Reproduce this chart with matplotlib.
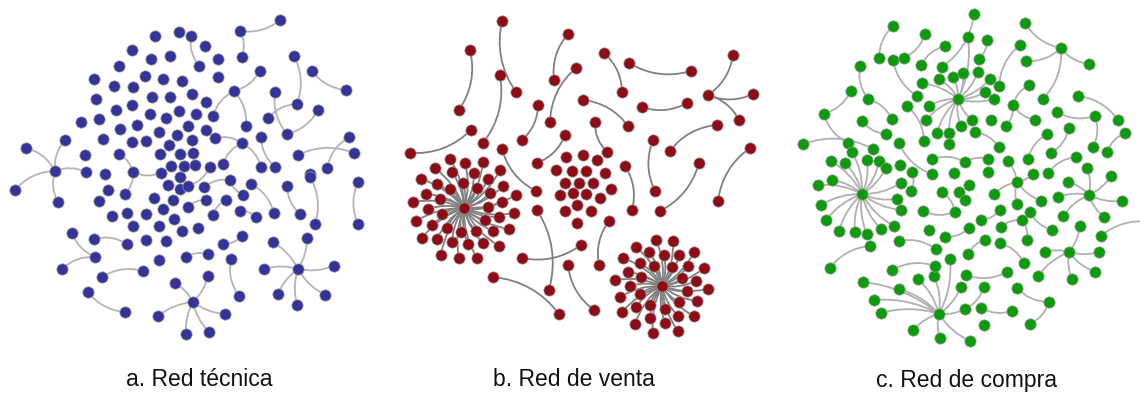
import numpy as np
import matplotlib
matplotlib.use("Agg")
import matplotlib.pyplot as plt
from matplotlib.path import Path
from matplotlib.patches import PathPatch

# node layouts (pixel coords, y down)
# ---- a. Red tecnica
nodes_a = [(155,36),(179,32),(191,36),(132,50),(151,59),(170,56),(119,66),(94,79),(145,76),(163,79),
           (182,81),(114,86),(133,87),(96,99),(152,97),(170,97),(116,110),(132,105),(150,114),(166,118),
           (179,111),(81,122),(99,119),(120,129),(137,125),(159,132),(177,135),(188,126),(65,140),(26,148),
           (103,139),(132,142),(146,141),(169,145),(85,155),(119,154),(160,154),(180,154),(171,166),(184,166),
           (55,171),(86,172),(105,174),(133,172),(161,173),(193,153),
           (280,20),(240,31),(205,46),(218,59),(242,57),(199,66),(294,56),(260,71),(218,77),(312,71),
           (346,90),(234,91),(192,94),(275,92),(206,102),(297,104),(268,118),(318,110),(196,114),(213,116),
           (246,126),(206,130),(287,134),(192,140),(215,138),(242,143),(261,137),(349,137),(298,155),(354,153),
           (195,165),(210,167),(223,164),(261,167),(275,167),(327,168),(310,174),
           (180,177),(15,190),(58,202),(108,190),(125,194),(99,201),(168,185),(180,189),(188,186),(154,198),
           (173,200),(112,216),(127,213),(146,214),(163,209),(174,219),(188,207),(133,226),(159,226),(182,231),
           (72,233),(94,239),(127,244),(146,240),(166,241),(95,257),(62,269),(159,260),(186,257),(102,277),
           (143,271),(175,283),(88,292),(125,312),(158,316),(186,334),
           (204,187),(230,180),(243,195),(251,184),(287,186),(310,177),(358,182),(206,200),(226,200),(213,215),
           (240,211),(256,217),(274,213),(300,214),(315,224),(358,224),(198,228),(242,236),(223,244),(273,242),
           (307,238),(208,254),(231,259),(264,269),(298,269),(334,266),(208,276),(239,296),(278,294),(325,295),
           (297,305),(193,302),(225,314),(209,332)]
edges_a = [((55,171),(26,148)),((55,171),(65,140)),((55,171),(15,190)),((55,171),(86,172)),((55,171),(58,202)),
           ((119,154),(133,172)),((133,172),(161,173)),((133,172),(125,194)),
           ((240,31),(280,20)),((240,31),(242,57)),((191,36),(199,66)),((294,56),(297,104)),((312,71),(346,90)),
           ((260,71),(234,91)),((234,91),(213,116)),((234,91),(246,126)),((275,92),(287,134)),((268,118),(297,104)),
           ((287,134),(318,110)),((215,138),(242,143)),((242,143),(223,164)),((242,143),(261,167)),((261,137),(275,167)),
           ((298,155),(354,153)),((349,137),(327,168)),((210,167),(188,186)),
           ((72,233),(95,257)),((94,239),(127,244)),((95,257),(62,269)),((102,277),(143,271)),((88,292),(125,312)),
           ((204,187),(230,180)),((230,180),(243,195)),((251,184),(274,213)),((287,186),(300,214)),((310,177),(315,224)),
           ((358,182),(358,224)),((188,207),(206,200)),((226,200),(213,215)),((240,211),(256,217)),((223,244),(242,236)),
           ((186,257),(208,254)),((231,259),(239,296))]
hubs_a = [((193,302), [(175,283),(158,316),(186,334),(208,276),(225,314),(209,332)]),
          ((298,269), [(273,242),(307,238),(264,269),(334,266),(278,294),(325,295),(297,305)])]

# ---- b. Red de venta
nodes_b = [(502,21),(568,34),(470,50),(576,68),(500,75),(516,92),(554,80),(583,100),(459,110),(538,105),
           (550,122),(471,130),(410,153),(483,143),(522,140),(502,149),(565,135),(537,163),
           (604,53),(629,63),(691,71),(733,55),(622,92),(642,107),(687,103),(708,95),(753,94),(739,120),
           (595,122),(628,126),(717,125),(653,140),(670,151),(750,148),(607,152),(699,163),(625,166),
           (556,170),(572,171),(586,171),(605,173),(565,183),(579,183),(593,183),(611,189),(560,195),
           (573,193),(586,194),(600,198),(577,205),(565,211),(591,211),(577,223),(583,155),(597,160),(566,157)]
edges_b = [((502,21),(516,92)),((500,75),(483,143)),((568,34),(554,80)),((470,50),(459,110)),((576,68),(550,122)),
           ((538,105),(522,140)),((410,153),(471,130)),((565,135),(537,163)),((502,149),(536,191)),((537,210),(549,290)),
           ((522,258),(581,245)),((493,277),(559,314)),((568,265),(594,310)),
           ((604,53),(622,92)),((629,63),(691,71)),((733,55),(708,95)),((708,95),(753,94)),((708,95),(739,120)),
           ((642,107),(687,103)),((583,100),(628,126)),((595,122),(607,152)),((670,151),(717,125)),((653,140),(655,191)),
           ((699,163),(660,211)),((750,148),(718,201)),((625,166),(632,210)),((609,221),(599,265))]
hubs_b = [((464,208), [(450,159),(465,163),(483,162),(435,168),(500,170),(474,173),(452,172),(421,179),(488,179),
                       (437,184),(450,189),(463,183),(477,188),(503,186),(426,194),(440,199),(490,193),(516,195),
                       (413,202),(428,209),(488,207),(502,202),(442,214),(514,213),(416,221),(432,225),(485,220),
                       (499,217),(447,228),(461,232),(476,231),(493,231),(509,229),(422,238),(437,239),(452,242),
                       (468,244),(483,243),(499,246),(441,255),(459,258),(477,258)]),
          ((662,286), [(656,240),(673,241),(636,247),(649,252),(664,255),(679,255),(694,252),(623,258),(640,263),
                       (654,266),(672,267),(688,266),(704,268),(628,272),(615,280),(641,277),(682,278),(696,281),
                       (630,286),(708,289),(687,291),(640,294),(620,297),(697,301),(679,302),(650,305),(636,307),
                       (665,309),(622,312),(678,316),(694,316),(650,318),(665,323),(635,324),(678,331),(653,333)])]

# ---- c. Red de compra
nodes_c = [(893,26),(925,34),(974,14),(945,46),(968,37),(879,58),(893,60),(904,58),(860,66),(921,65),
           (942,67),(963,73),(939,79),(953,77),(922,83),(851,91),(868,99),(917,96),(958,99),(907,106),
           (929,106),(824,114),(926,120),(862,121),(892,119),(961,126),(972,120),(937,133),(949,133),(886,134),
           (803,144),(848,143),(873,149),(899,143),(924,141),(949,144),(852,152),(831,161),(845,163),(867,160),
           (879,161),(886,168),(900,165),(912,172),(932,159),(965,162),(932,174),(954,173),
           (987,40),(1025,23),(1020,45),(1061,48),(979,59),(1026,61),(1089,64),(978,72),(990,79),(999,86),
           (985,92),(994,99),(1029,85),(1043,99),(1078,96),(1013,105),(1057,112),(1095,116),(1118,120),(991,120),
           (1035,120),(1006,126),(1069,128),(1125,133),(975,132),(1047,134),(999,147),(1093,147),(1107,152),(1051,153),
           (1076,157),(988,159),(1008,161),(1028,159),(1087,168),(988,172),(1033,174),(1048,173),(1111,176),
           (818,185),(832,180),(862,194),(821,205),(826,220),(839,231),(855,232),(867,234),(881,229),(894,226),
           (901,210),(897,199),(901,183),(911,191),(942,192),(959,192),(965,200),(969,185),(923,211),(955,212),
           (929,230),(945,237),(969,228),(870,246),(899,241),(936,249),(830,268),(892,270),(935,266),(950,259),
           (968,254),(918,279),(934,276),(863,282),(899,289),(966,275),(961,287),(874,300),(881,313),(939,314),
           (965,309),(913,330),(940,338),(970,341),
           (1017,182),(1068,182),(1089,195),(994,194),(1017,204),(1041,201),(1058,197),(1122,201),(1000,210),
           (1030,212),(1063,216),(1104,217),(981,220),(1022,220),(1001,227),(1052,230),(1080,226),(1101,236),
           (985,240),(1027,240),(1000,243),(1045,252),(1069,252),(1099,252),(1024,263),(1007,272),(1038,276),
           (1072,279),(1095,272),(984,287),(1017,288),(1049,302),(981,308),(1012,311),(1030,324),(984,325)]
edges_c = [((893,26),(879,58)),((925,34),(904,58)),((945,46),(921,65)),((974,14),(942,67)),
           ((860,66),(868,99)),((868,99),(892,119)),((893,60),(917,96)),((851,91),(824,114)),((824,114),(848,143)),
           ((803,144),(873,149)),((862,121),(886,134)),((907,106),(924,141)),((899,143),(932,174)),((932,159),(965,162)),
           ((1025,23),(1061,48)),((1061,48),(1026,61)),((1061,48),(1089,64)),((1061,48),(1043,99)),((1020,45),(999,86)),
           ((987,40),(979,59)),((1029,85),(1013,105)),((1013,105),(1006,126)),((1013,105),(1035,120)),((1078,96),(1118,120)),
           ((1057,112),(1095,116)),((1095,116),(1093,147)),((1125,133),(1107,152)),((975,132),(999,147)),((1047,134),(1028,159)),
           ((1069,128),(1051,153)),((1076,157),(1048,173)),((965,162),(988,159)),
           ((870,246),(830,268)),((899,241),(936,249)),((923,211),(955,212)),((942,192),(955,212)),((945,237),(969,228)),
           ((892,270),(935,266)),((911,191),(912,172)),
           ((1000,210),(981,220)),((1022,220),(1001,227)),((1022,220),(1027,240)),((1030,212),(1052,230)),((1101,236),(1150,222)),
           ((985,240),(968,254)),((1000,243),(1024,263)),((966,275),(1007,272)),((984,287),(965,309)),((1017,288),(1049,302)),
           ((1049,302),(1030,324)),((981,308),(1012,311))]
hubs_c = [((958,99), [(922,83),(939,79),(953,77),(963,73),(978,72),(990,79),(985,92),(994,99),(929,106),(926,120),
                      (937,133),(949,133),(961,126),(972,120),(968,37)]),
          ((862,194), [(818,185),(832,180),(821,205),(826,220),(839,231),(855,232),(867,234),(881,229),(894,226),
                       (901,210),(897,199),(901,183),(831,161),(845,163),(852,152),(867,160),(879,161),(886,168)]),
          ((939,314), [(863,282),(874,300),(881,313),(899,289),(918,279),(934,276),(950,259),(913,330),(940,338),
                       (970,341),(965,309),(961,287)]),
          ((1017,182), [(1033,174),(994,194),(1017,204),(1041,201),(1008,161)]),
          ((1089,195), [(1068,182),(1058,197),(1111,176),(1122,201),(1063,216),(1104,217),(1087,168)]),
          ((1069,252), [(1045,252),(1099,252),(1080,226),(1038,276),(1072,279),(1095,272)])]

labels = ["a. Red técnica", "b. Red de venta", "c. Red de compra"]
label_x = [199, 574, 966]
node_colors = ["#33339a", "#8e0c16", "#0b9b0b"]
edge_colors = ["#b4b4b4", "#808080", "#b0b0b0"]


def arc(ax, p, q, rad, color):
    p = np.array(p, float); q = np.array(q, float)
    d = q - p
    perp = np.array([-d[1], d[0]])
    ctrl = (p + q) / 2 + rad * perp
    path = Path([p, ctrl, q], [Path.MOVETO, Path.CURVE3, Path.CURVE3])
    ax.add_patch(PathPatch(path, fc="none", ec=color, lw=1.3, zorder=1))


fig = plt.figure(figsize=(11.4, 3.94), dpi=100)
ax = fig.add_axes([0, 0, 1, 1])
ax.set_xlim(0, 1140)
ax.set_ylim(394, 0)
ax.axis("off")

panels = [(nodes_a, edges_a, hubs_a), (nodes_b, edges_b, hubs_b), (nodes_c, edges_c, hubs_c)]
for k, (nodes, edges, hubs) in enumerate(panels):
    pts = set(nodes)
    for i, (p, q) in enumerate(edges):
        arc(ax, p, q, 0.22 if i % 2 == 0 else -0.22, edge_colors[k])
        pts.update([p, q])
    for center, spokes in hubs:
        for s in spokes:
            arc(ax, center, s, 0.15, edge_colors[k])
            pts.add(s)
        pts.add(center)
    pts = np.array(sorted(pts), float)
    ax.scatter(pts[:, 0], pts[:, 1], s=66, c=node_colors[k], edgecolors="#9a9a9a",
               linewidths=0.5, zorder=3)
    ax.text(label_x[k], 380, labels[k], ha="center", va="center", fontsize=16.5,
            family="Liberation Sans", color="#111111")

fig.savefig("out.png", dpi=100)
